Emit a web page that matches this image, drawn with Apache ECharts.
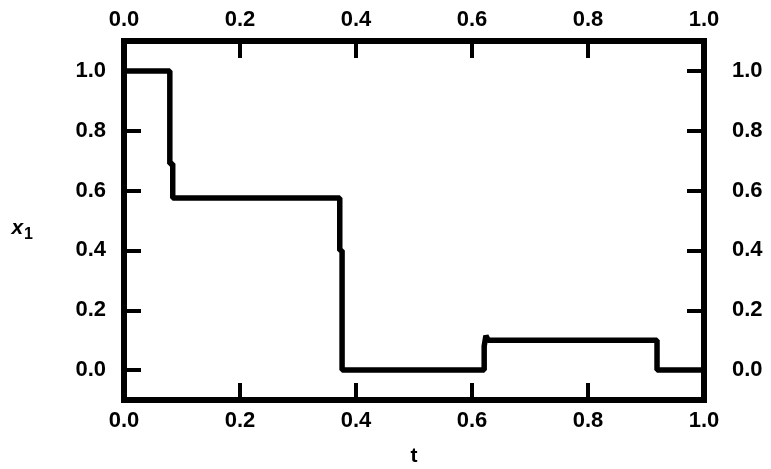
<!DOCTYPE html>
<html>
<head>
<meta charset="utf-8">
<script src="https://cdn.jsdelivr.net/npm/echarts@6/dist/echarts.min.js"></script>
<style>
  html, body { margin: 0; padding: 0; background: #fff; }
  #chart { width: 771px; height: 469px; }
</style>
</head>
<body>
<div id="chart"></div>
<script>
// step response x1(t)
const tValues = [0, 0.079, 0.079, 0.084, 0.084, 0.372, 0.372, 0.376, 0.376, 0.621, 0.621, 0.624, 0.624, 0.628, 0.919, 0.919, 1.0];
const x1Values = [1.0, 1.0, 0.69, 0.69, 0.575, 0.575, 0.40, 0.40, 0.0, 0.0, 0.08, 0.08, 0.115, 0.10, 0.10, 0.0, 0.0];
const tickValues = [0, 0.2, 0.4, 0.6, 0.8, 1.0];

const seriesData = tValues.map((t, i) => [t, x1Values[i]]);

const font = "'Liberation Sans', Arial, sans-serif";
const labelStyle = {
  color: "#000",
  fontFamily: font,
  fontWeight: "bold",
  fontSize: 22,
  formatter: (v) => Number(v).toFixed(1),
};
const tickStyle = {
  show: true,
  inside: true,
  length: 17,
  lineStyle: { color: "#000", width: 4 },
};

function xAxis(position, extra) {
  return Object.assign(
    {
      type: "value",
      position: position,
      min: 0,
      max: 1,
      interval: 0.2,
      axisLine: { show: false, onZero: false },
      axisTick: tickStyle,
      splitLine: { show: false },
      axisLabel: Object.assign({}, labelStyle, { margin: 10 }),
    },
    extra
  );
}

function yAxis(position, margin, extra) {
  return Object.assign(
    {
      type: "value",
      position: position,
      min: -0.1,
      max: 1.1,
      axisLine: { show: false, onZero: false },
      axisTick: Object.assign({}, tickStyle, { customValues: tickValues }),
      splitLine: { show: false },
      axisLabel: Object.assign({}, labelStyle, {
        margin: margin,
        customValues: tickValues,
      }),
    },
    extra
  );
}

const chart = echarts.init(document.getElementById("chart"));
chart.setOption({
  animation: false,
  backgroundColor: "#fff",
  grid: {
    left: 124,
    right: 67,
    top: 41,
    bottom: 69,
    outerBoundsMode: "none",
    show: true,
    borderColor: "#000",
    borderWidth: 6,
  },
  xAxis: [
    xAxis("bottom", {
      name: "t",
      nameLocation: "middle",
      nameGap: 46,
      nameTextStyle: {
        color: "#000",
        fontFamily: font,
        fontWeight: "bold",
        fontSize: 21,
      },
    }),
    xAxis("top", {}),
  ],
  yAxis: [
    yAxis("left", 18, {
      name: "{a|x}{b|1}",
      nameLocation: "middle",
      nameRotate: 0,
      nameGap: 91,
      nameTextStyle: {
        padding: [16, 0, 0, 0],
        rich: {
          a: {
            color: "#000",
            fontFamily: font,
            fontWeight: "bold",
            fontStyle: "italic",
            fontSize: 21,
          },
          b: {
            color: "#000",
            fontFamily: font,
            fontWeight: "bold",
            fontSize: 16,
            padding: [12, 0, 0, 1],
          },
        },
      },
    }),
    yAxis("right", 28, {}),
  ],
  series: [
    {
      type: "line",
      xAxisIndex: 0,
      yAxisIndex: 0,
      data: seriesData,
      showSymbol: false,
      lineStyle: { color: "#000", width: 5.5 },
    },
  ],
});
</script>
</body>
</html>
